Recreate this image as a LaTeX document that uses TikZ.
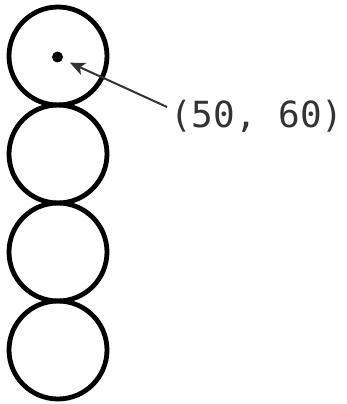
\documentclass[tikz,border=0pt]{standalone}
\usepackage{fontspec}
\newfontfamily\labelmono{DejaVu Sans Mono}
\usetikzlibrary{arrows.meta}
\definecolor{inkgray}{HTML}{333333}
\begin{document}
\begin{tikzpicture}[x=1pt,y=-1pt,
  ring/.style={circle, draw=black, line width=4.8pt, inner sep=0pt, minimum size=98pt},
  pointdot/.style={circle, fill=black, inner sep=0pt, minimum size=11pt},
  coordlabel/.style={anchor=base west, inner sep=0pt, text=inkgray, font=\labelmono\fontsize{36}{36}\selectfont},
  pointer/.style={draw=inkgray, line width=2pt, -{Stealth[length=15pt, width=13pt, inset=4pt]}}]
\useasboundingbox (0,0) rectangle (347,404);
\node[ring] (c1) at (58,56) {};
\node[ring] (c2) at (58,154) {};
\node[ring] (c3) at (58,252) {};
\node[ring] (c4) at (58,350) {};
\node[pointdot] (dot) at (57.5,57) {};
\node[coordlabel] (lbl) at (170,127) {(50, 60)};
\coordinate (tail) at (167,107);
\draw[pointer, shorten >=8pt] (tail) -- (dot);
\end{tikzpicture}
\end{document}
